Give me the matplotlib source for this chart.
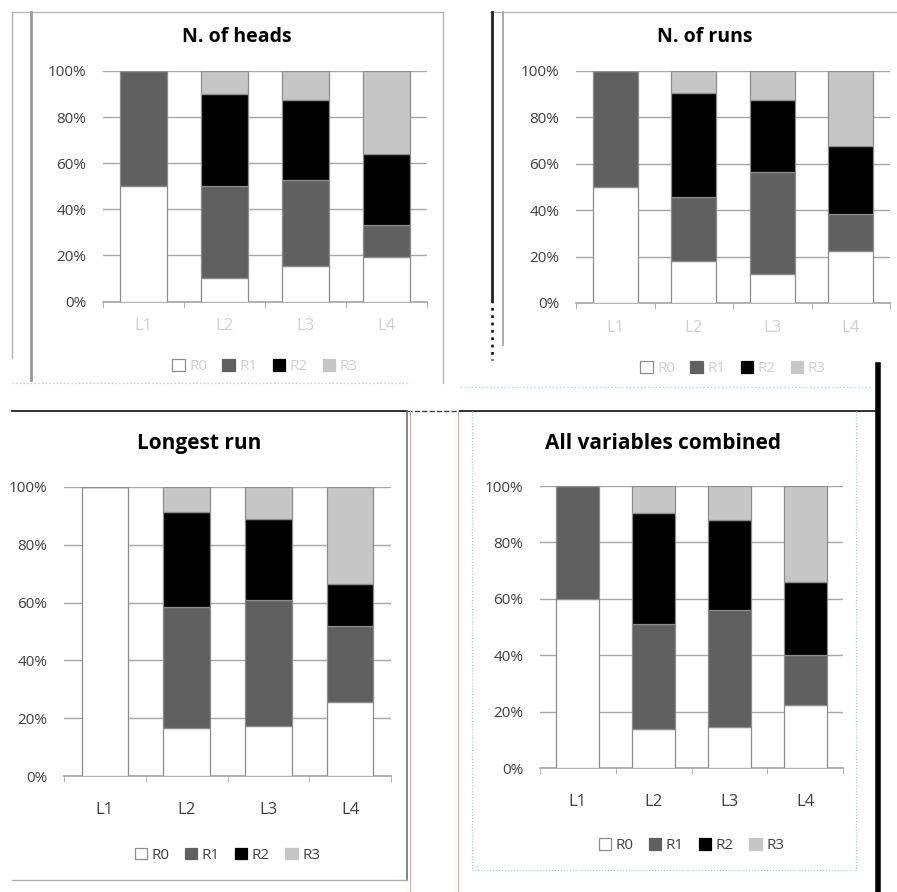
import numpy as np
import matplotlib
matplotlib.use('Agg')
import matplotlib.pyplot as plt
from matplotlib.lines import Line2D
from matplotlib.patches import Patch

plt.rcParams['font.family'] = ['Open Sans', 'DejaVu Sans']

# Data (percent of each level, stacked R0..R3)
levels = ['L1', 'L2', 'L3', 'L4']
series = ['R0', 'R1', 'R2', 'R3']

heads_r0 = [50, 10, 15.5, 19.5]
heads_r1 = [50, 40, 37.2, 13.7]
heads_r2 = [0, 40, 34.7, 30.7]
heads_r3 = [0, 10, 12.6, 36.1]

runs_r0 = [50, 18, 12.5, 22.5]
runs_r1 = [50, 27.5, 44, 16]
runs_r2 = [0, 45, 31, 29]
runs_r3 = [0, 9.5, 12.5, 32.5]

longest_r0 = [100, 16.5, 17.3, 25.7]
longest_r1 = [0, 42, 43.7, 26.2]
longest_r2 = [0, 33, 28, 14.5]
longest_r3 = [0, 8.5, 11, 33.6]

combined_r0 = [60, 13.7, 14.5, 22.2]
combined_r1 = [40, 37.2, 41.4, 17.8]
combined_r2 = [0, 39.5, 31.9, 26]
combined_r3 = [0, 9.6, 12.2, 34]

colors = ['#ffffff', '#606060', '#000000', '#c6c6c6']

W, H = 897, 892
fig = plt.figure(figsize=(W / 100, H / 100), dpi=100)


def px(x0, y0, x1, y1):
    # pixel box (top-left origin) -> figure rect
    return [x0 / W, 1 - y1 / H, (x1 - x0) / W, (y1 - y0) / H]


def line(xs, ys, **kw):
    fig.add_artist(Line2D([x / W for x in xs], [1 - y / H for y in ys],
                          transform=fig.transFigure, **kw))


def chart(rect, title, data, title_xy, faint=False, tsize=14, xpad=14,
          leg_y=-0.2):
    ax = fig.add_axes(rect)
    x = np.arange(len(levels))
    bottom = np.zeros(len(levels))
    for name, vals, c in zip(series, data, colors):
        vals = np.array(vals, dtype=float)
        ax.bar(x, vals, 0.57, bottom=bottom, color=c, edgecolor='#8c8c8c',
               linewidth=0.9, label=name, zorder=3)
        bottom += vals
    ax.set_xlim(-0.5, len(levels) - 0.5)
    ax.set_ylim(0, 100)
    ax.set_yticks(np.arange(0, 101, 20))
    ax.set_yticklabels(['%d%%' % v for v in range(0, 101, 20)],
                       fontsize=11, color='#404040')
    ax.yaxis.grid(True, color='#a6a6a6', linewidth=1, zorder=0)
    ax.set_axisbelow(True)
    for s in ['top', 'right', 'left']:
        ax.spines[s].set_visible(False)
    ax.spines['bottom'].set_color('#a6a6a6')
    ax.spines['bottom'].set_linewidth(1.2)
    ax.tick_params(axis='y', length=0, pad=12)
    ax.set_xticks(x)
    lab_color = '#d0d0d0' if faint else '#404040'
    ax.set_xticklabels(levels, fontsize=12, color=lab_color)
    ax.tick_params(axis='x', which='major', length=0, pad=xpad)
    ax.set_xticks(np.arange(-0.5, len(levels), 1.0), minor=True)
    ax.tick_params(axis='x', which='minor', length=4, color='#a6a6a6',
                   direction='out')
    fig.text(title_xy[0] / W, 1 - title_xy[1] / H, title,
             ha='center', va='center', fontsize=tsize, fontweight='bold')
    handles = [Patch(facecolor=c, edgecolor='#8c8c8c' if i == 0 else c,
                     linewidth=0.9) for i, c in enumerate(colors)]
    leg = ax.legend(handles, series, ncol=4, loc='upper center',
                    bbox_to_anchor=(0.5, leg_y), frameon=False, fontsize=11,
                    handlelength=0.8, handleheight=0.8, handletextpad=0.3,
                    columnspacing=1.0)
    for t in leg.get_texts():
        t.set_color(lab_color)
    return ax


chart(px(103, 71, 427, 301.5), 'N. of heads',
      [heads_r0, heads_r1, heads_r2, heads_r3], (237, 37), faint=True,
      xpad=12, leg_y=-0.19)
chart(px(576, 71, 890, 303), 'N. of runs',
      [runs_r0, runs_r1, runs_r2, runs_r3], (705, 37), faint=True,
      xpad=12, leg_y=-0.19)
chart(px(64, 487, 391, 776), 'Longest run',
      [longest_r0, longest_r1, longest_r2, longest_r3], (199, 444),
      tsize=15, xpad=19, leg_y=-0.2)
chart(px(540, 486, 843, 768), 'All variables combined',
      [combined_r0, combined_r1, combined_r2, combined_r3], (663, 443),
      tsize=15, xpad=19, leg_y=-0.2)

# panel borders
line([12, 443], [12, 12], color='#b8b8b8', lw=1)
line([12, 12], [12, 358], color='#b0b0b0', lw=1)
line([31, 31], [12, 380], color='#9a9a9a', lw=2)
line([443, 443], [12, 383], color='#b8b8b8', lw=1)
line([12, 410], [383, 383], color='#c8c8c8', lw=1, ls=':')
line([490, 897], [12, 12], color='#b8b8b8', lw=1)
line([492, 492], [12, 300], color='#202020', lw=2)
line([492, 492], [300, 360], color='#202020', lw=2, ls=':')
line([503, 503], [12, 345], color='#a0a0a0', lw=1.2)
line([460, 870], [387, 387], color='#8ee8ee', lw=1, ls=':')
line([12, 407], [411, 411], color='#202020', lw=1.3)
line([407, 460], [411, 411], color='#404040', lw=1, ls='--')
line([460, 878], [411, 411], color='#202020', lw=1.3)
line([407, 407], [411, 880], color='#707070', lw=1.2)
line([410, 410], [411, 892], color='#f0a0a0', lw=0.8)
line([12, 407], [880, 880], color='#b0b0b0', lw=1)
line([458, 458], [411, 892], color='#f0a0a0', lw=0.8)
line([472, 472], [411, 870], color='#a0c8d0', lw=0.8, ls=':')
line([856, 856], [411, 870], color='#a0c8d0', lw=0.8, ls=':')
line([472, 856], [870, 870], color='#a0c8d0', lw=0.8, ls=':')
line([878, 878], [365, 892], color='#000000', lw=4)

fig.savefig('out.png', dpi=100)
